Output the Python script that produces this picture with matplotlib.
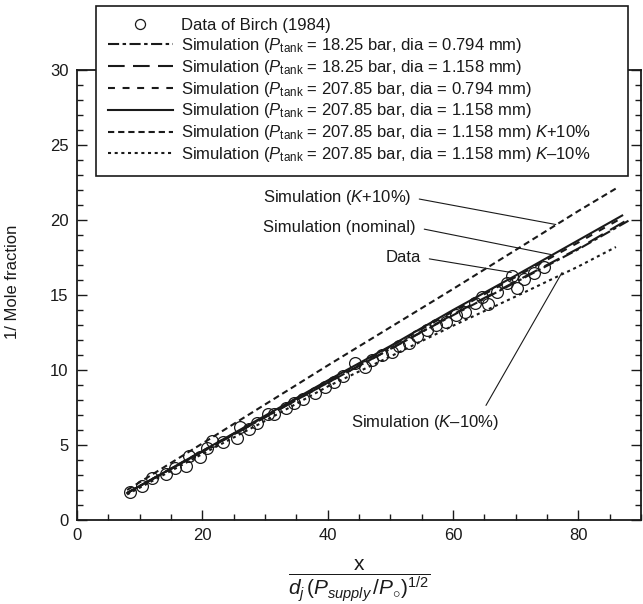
import matplotlib
matplotlib.use("Agg")
import matplotlib.pyplot as plt
from matplotlib.ticker import MultipleLocator

plt.rcParams['font.family'] = ['Liberation Sans', 'DejaVu Sans']
plt.rcParams['mathtext.fontset'] = 'custom'
plt.rcParams['mathtext.rm'] = 'Liberation Sans'
plt.rcParams['mathtext.it'] = 'Liberation Sans:italic'
plt.rcParams['mathtext.bf'] = 'Liberation Sans:bold'
plt.rcParams['lines.scale_dashes'] = False

ink = '#1a1a1a'

# Birch (1984) measurements
data_x = [8.4, 10.3, 12.0, 14.2, 15.6, 17.4, 17.9, 19.6, 20.7, 21.5, 23.3, 25.5, 26.0,
          27.5, 28.8, 30.4, 31.5, 33.3, 34.7, 36.1, 37.9, 39.5, 41.0, 42.5, 44.3, 45.9,
          47.1, 48.7, 50.3, 51.4, 53.0, 54.3, 55.9, 57.3, 58.9, 60.4, 61.9, 63.5, 64.6,
          65.6, 67.0, 68.6, 69.4, 70.2, 71.3, 72.9, 74.5]
data_y = [1.9, 2.3, 2.8, 3.1, 3.5, 3.6, 4.3, 4.2, 4.8, 5.3, 5.2, 5.5, 6.2,
          6.1, 6.5, 7.1, 7.1, 7.5, 7.8, 8.1, 8.5, 8.9, 9.2, 9.6, 10.5, 10.2,
          10.7, 11.0, 11.2, 11.6, 11.8, 12.3, 12.7, 13.0, 13.2, 13.7, 13.9, 14.5, 14.9,
          14.4, 15.2, 15.8, 16.3, 15.5, 16.1, 16.5, 16.9]

# simulations
sim_x_long = [8, 20, 30, 40, 50, 60, 70, 80, 88]
sim_x_mid = [8, 20, 30, 40, 50, 60, 70, 80, 87]
sim_x_short = [8, 20, 30, 40, 50, 60, 70, 80, 86]
y_18_0794 = [1.8, 4.55, 6.85, 9.15, 11.4, 13.65, 15.85, 18.05, 19.95]
y_18_1158 = [1.8, 4.55, 6.85, 9.15, 11.4, 13.7, 15.9, 18.1, 20.05]
y_207_0794 = [1.8, 4.6, 6.9, 9.25, 11.55, 13.9, 16.2, 18.5, 20.15]
y_207_1158 = [1.8, 4.6, 6.95, 9.3, 11.6, 14.0, 16.3, 18.65, 20.3]
y_k_plus = [2.0, 5.1, 7.7, 10.3, 12.85, 15.4, 18.0, 20.6, 22.1]
y_k_minus = [1.7, 4.4, 6.6, 8.9, 10.9, 12.95, 14.9, 16.9, 18.2]

labels = [
    'Data of Birch (1984)',
    r'Simulation ($P_{\mathrm{tank}}$ = 18.25 bar, dia = 0.794 mm)',
    r'Simulation ($P_{\mathrm{tank}}$ = 18.25 bar, dia = 1.158 mm)',
    r'Simulation ($P_{\mathrm{tank}}$ = 207.85 bar, dia = 0.794 mm)',
    r'Simulation ($P_{\mathrm{tank}}$ = 207.85 bar, dia = 1.158 mm)',
    r'Simulation ($P_{\mathrm{tank}}$ = 207.85 bar, dia = 1.158 mm) $K$+10%',
    r'Simulation ($P_{\mathrm{tank}}$ = 207.85 bar, dia = 1.158 mm) $K$–10%',
]

fig = plt.figure(figsize=(6.43, 6.04), dpi=100)
ax = fig.add_axes([77 / 643, 84 / 604, 564 / 643, 450 / 604])

lw = 1.5
ax.plot(data_x, data_y, 'o', ms=8.5, mfc='none', mec=ink, mew=0.9, label=labels[0], zorder=4)
ax.plot(sim_x_long, y_18_0794, color=ink, lw=lw, dashes=(8, 2.5, 2.5, 2.5), label=labels[1])
ax.plot(sim_x_long, y_18_1158, color=ink, lw=lw, dashes=(12, 6), label=labels[2])
ax.plot(sim_x_mid, y_207_0794, color=ink, lw=lw, dashes=(5, 5.5), label=labels[3])
ax.plot(sim_x_mid, y_207_1158, color=ink, lw=lw, label=labels[4])
ax.plot(sim_x_short, y_k_plus, color=ink, lw=lw, dashes=(4.5, 2.8), label=labels[5])
ax.plot(sim_x_short, y_k_minus, color=ink, lw=lw, dashes=(2.2, 2.6), label=labels[6])

ax.set_xlim(0, 90)
ax.set_ylim(0, 30)
ax.xaxis.set_major_locator(MultipleLocator(20))
ax.xaxis.set_minor_locator(MultipleLocator(5))
ax.yaxis.set_major_locator(MultipleLocator(5))
ax.yaxis.set_minor_locator(MultipleLocator(1))
ax.tick_params(which='both', direction='in', bottom=True, left=True, right=True, top=False,
               colors=ink, width=1.0)
ax.tick_params(which='major', length=7, labelsize=12, pad=6)
ax.tick_params(which='minor', length=4.3)
ax.set_xticks([0, 20, 40, 60, 80])
for s in ax.spines.values():
    s.set_linewidth(1.3)
    s.set_color(ink)

ax.set_ylabel('1/ Mole fraction', fontsize=12, color=ink)
ax.yaxis.set_label_coords(-0.101, 0.53)
ax.set_xlabel(r'$\dfrac{\mathrm{x}}{d_j\,(P_{supply}\,/P_{\circ})^{\mathrm{1/2}}}$', fontsize=15, color=ink)
ax.xaxis.set_label_coords(0.5, -0.135)
ax.xaxis.label.set_va('center')

# callouts
line_kw = dict(arrowstyle='-', color=ink, lw=0.8, shrinkA=4, shrinkB=0)
ax.annotate('Simulation ($K$+10%)', xy=(76.4, 19.7), xytext=(53.3, 21.5), ha='right', va='center',
            fontsize=12, color=ink, arrowprops=dict(relpos=(1, 0.5), **line_kw))
ax.annotate('Simulation (nominal)', xy=(75.6, 17.7), xytext=(54.1, 19.5), ha='right', va='center',
            fontsize=12, color=ink, arrowprops=dict(relpos=(1, 0.5), **line_kw))
ax.annotate('Data', xy=(69.3, 16.5), xytext=(54.9, 17.5), ha='right', va='center',
            fontsize=12, color=ink, arrowprops=dict(relpos=(1, 0.5), **line_kw))
ax.annotate('Simulation ($K$–10%)', xy=(77.4, 16.5), xytext=(67.4, 6.5), ha='right', va='center',
            fontsize=12, color=ink, arrowprops=dict(relpos=(0.88, 1), **line_kw))

leg = ax.legend(loc='upper left', bbox_to_anchor=(0.0337, 0.758, 0.9433, 0.384), mode='expand',
                fontsize=12, frameon=True, fancybox=False, framealpha=1, edgecolor=ink,
                handlelength=3.9, handletextpad=0.5, borderpad=0.7, labelspacing=0.175,
                borderaxespad=0, markerscale=0.85)
leg.get_frame().set_linewidth(1.2)
for t in leg.get_texts():
    t.set_color(ink)

fig.savefig('out.png', dpi=100)
